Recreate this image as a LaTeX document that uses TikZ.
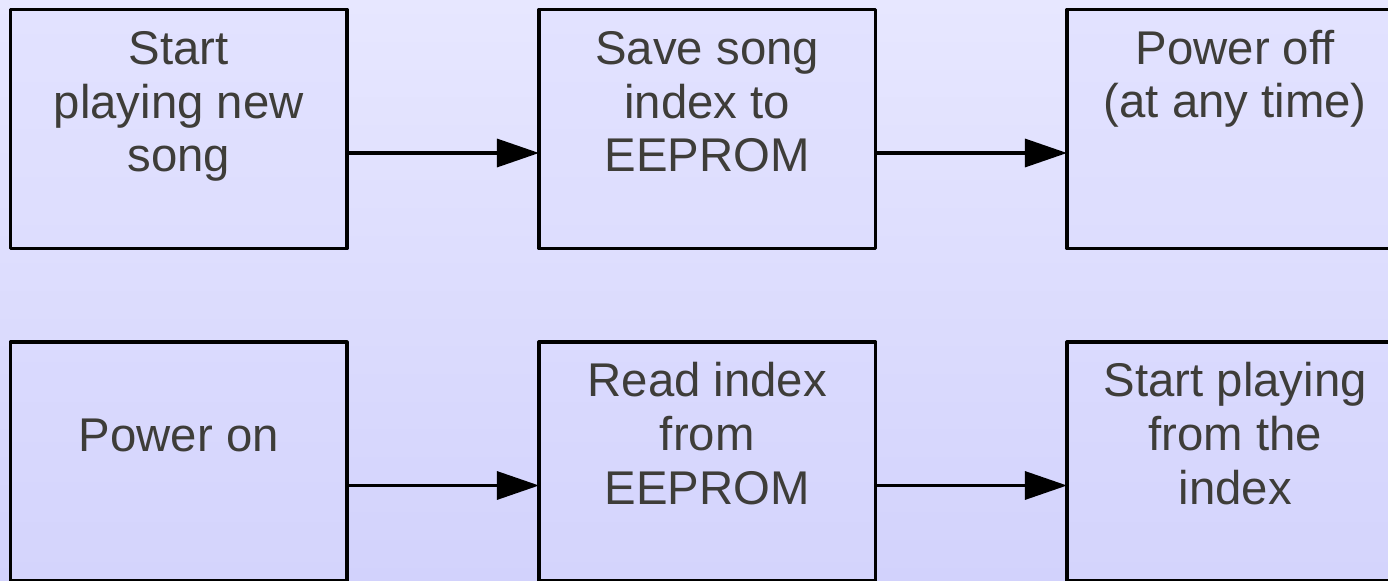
\documentclass[tikz,border=0pt]{standalone}
\usepackage{fontspec}
\setmainfont{Liberation Sans}
\usetikzlibrary{arrows.meta}
\definecolor{bgtop}{RGB}{231,231,255}
\definecolor{bgbot}{RGB}{210,210,252}
\definecolor{txtcol}{RGB}{62,61,57}
\tikzset{
  box/.style={draw=black, line width=2.4pt, line join=round, minimum width=252.4pt, minimum height=179.25pt, inner sep=0pt, outer sep=0pt},
  rowone/.style={box, top color={rgb,255:red,226;green,226;blue,255}, bottom color={rgb,255:red,221;green,221;blue,254}},
  rowtwo/.style={box, top color={rgb,255:red,218;green,218;blue,254}, bottom color={rgb,255:red,212;green,212;blue,252}},
  txt/.style={font=\fontsize{35.5pt}{40.3pt}\selectfont, align=center, inner sep=0pt, text=txtcol},
  flow/.style={line width=2.4pt, -{Triangle[length=31.5pt, width=21pt]}}
}
\begin{document}
\begin{tikzpicture}[x=0.75pt, y=-0.75pt]
\useasboundingbox (0,0) rectangle (1388,581);
\shade[top color=bgtop, bottom color=bgbot] (0,0) rectangle (1388,581);
\begin{scope}
\clip (0,0) rectangle (1388,581);
% top row
\node[rowone] (b1) at (178.75,129) {};
\node[rowone] (b2) at (707.25,129) {};
\node[rowone] (b3) at (1235.25,129) {};
% bottom row
\node[rowtwo] (b4) at (178.75,461.5) {};
\node[rowtwo] (b5) at (707.25,461.5) {};
\node[rowtwo] (b6) at (1235.25,461.5) {};
\end{scope}
% texts
\node[txt] (t1) at (178.75,107.3) {\strut Start\\\strut playing new\\\strut song};
\node[txt] (t2) at (707.25,107.3) {\strut Save song\\\strut index to\\\strut EEPROM};
\node[txt] (t3) at (1235.25,80.3) {\strut Power off\\\strut (at any time)};
\node[txt] (t4) at (178.75,440.3) {\strut Power on};
\node[txt] (t5) at (707.25,439.8) {\strut Read index\\\strut from\\\strut EEPROM};
\node[txt] (t6) at (1235.25,439.8) {\strut Start playing\\\strut from the\\\strut index};
% connectors
\draw[flow] ([yshift=-18pt]b1.east) -- ([yshift=-18pt]b2.west);
\draw[flow] ([yshift=-18pt]b2.east) -- ([yshift=-18pt]b3.west);
\draw[flow] ([yshift=-18pt]b4.east) -- ([yshift=-18pt]b5.west);
\draw[flow] ([yshift=-18pt]b5.east) -- ([yshift=-18pt]b6.west);
\end{tikzpicture}
\end{document}
